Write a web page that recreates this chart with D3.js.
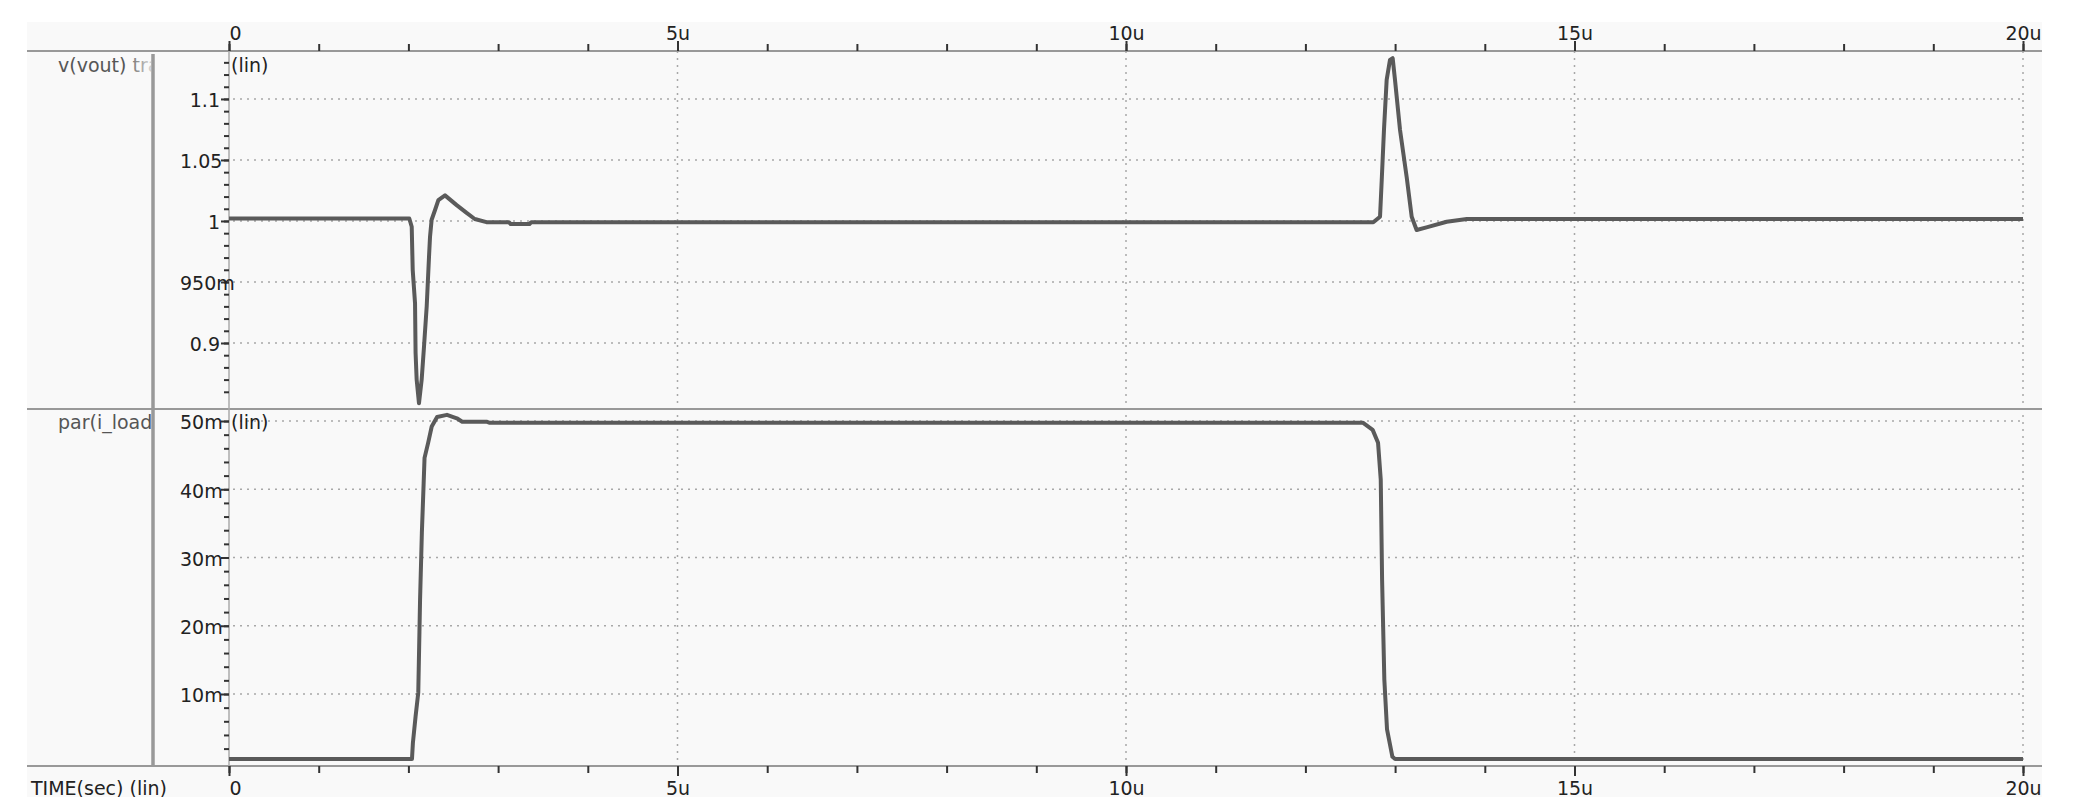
<!DOCTYPE html>
<html>
<head>
<meta charset="utf-8">
<script src="https://cdn.jsdelivr.net/npm/d3@7"></script>
<style>
  body { margin: 0; background: #fff; }
  text { font-family: "DejaVu Sans", sans-serif; font-size: 19px; }
</style>
</head>
<body>
<svg id="chart" width="2073" height="802"></svg>
<script>
// time axis (microseconds)
const timeTicks = [0, 5, 10, 15, 20];
const timeLabels = ["0", "5u", "10u", "15u", "20u"];

// v(vout) panel
const voutTicks = [1.1, 1.05, 1.0, 0.95, 0.9];
const voutLabels = ["1.1", "1.05", "1", "950m", "0.9"];
const voutTime = [0, 2.01, 2.037, 2.048, 2.074, 2.08, 2.092, 2.118, 2.148, 2.174, 2.204, 2.23, 2.241, 2.259, 2.297, 2.334, 2.408, 2.538, 2.649, 2.74, 2.87, 3.12, 3.14, 3.35, 3.37,
  12.757, 12.832, 12.851, 12.876, 12.906, 12.943, 12.973, 12.999, 13.055, 13.129, 13.185, 13.24, 13.35, 13.575, 13.8, 20];
const voutVal = [1.002, 1.002, 0.9953, 0.960, 0.9325, 0.892, 0.870, 0.8506, 0.870, 0.897, 0.930, 0.971, 0.987, 1.001, 1.009, 1.017, 1.021, 1.013, 1.0066, 1.0016, 0.999, 0.999, 0.9975, 0.9975, 0.999,
  0.999, 1.0035, 1.0336, 1.0746, 1.1156, 1.132, 1.1334, 1.1156, 1.0746, 1.036, 1.0035, 0.9926, 0.9948, 0.9994, 1.0016, 1.0016];

// par(i_load) panel, mA
const iTicks = [50, 40, 30, 20, 10];
const iLabels = ["50m", "40m", "30m", "20m", "10m"];
const iTime = [0, 2.04, 2.05, 2.08, 2.11, 2.13, 2.15, 2.17, 2.18, 2.22, 2.26, 2.32, 2.43, 2.54, 2.6, 2.87, 2.9,
  12.64, 12.75, 12.81, 12.84, 12.855, 12.88, 12.91, 12.97, 13.0, 20];
const iVal = [0.48, 0.48, 2.8, 6.7, 10.2, 23.8, 33.6, 40.9, 44.6, 46.8, 49.2, 50.6, 50.9, 50.4, 49.9, 49.9, 49.75,
  49.75, 48.7, 46.8, 41.4, 26.7, 12.1, 4.8, 0.8, 0.48, 0.48];

const svg = d3.select("#chart");
const frame = { x0: 27, y0: 22, x1: 2042, y1: 797 };
const plotL = 229, plotR = 2023, plotT = 51, plotM = 409, plotB = 766;
const gridColor = "#a8a8a8", lineColor = "#999", traceColor = "#5a5a5a";

const defs = svg.append("defs");
defs.append("clipPath").attr("id", "frameClip").append("rect")
  .attr("x", frame.x0).attr("y", frame.y0).attr("width", frame.x1 - frame.x0).attr("height", frame.y1 - frame.y0);
defs.append("clipPath").attr("id", "nameClip").append("rect")
  .attr("x", frame.x0).attr("y", frame.y0).attr("width", 151 - frame.x0).attr("height", frame.y1 - frame.y0);
defs.append("clipPath").attr("id", "topClip").append("rect")
  .attr("x", plotL).attr("y", plotT).attr("width", plotR - plotL + 2).attr("height", plotM - plotT);
defs.append("clipPath").attr("id", "botClip").append("rect")
  .attr("x", plotL).attr("y", plotM).attr("width", plotR - plotL + 2).attr("height", plotB - plotM);
const fade = defs.append("linearGradient").attr("id", "fade")
  .attr("gradientUnits", "userSpaceOnUse").attr("x1", 125).attr("x2", 150).attr("y1", 0).attr("y2", 0);
fade.append("stop").attr("offset", 0).attr("stop-color", "#555");
fade.append("stop").attr("offset", 1).attr("stop-color", "#d0d0d0");

const root = svg.append("g").attr("clip-path", "url(#frameClip)");
root.append("rect").attr("x", frame.x0).attr("y", frame.y0)
  .attr("width", frame.x1 - frame.x0).attr("height", frame.y1 - frame.y0).attr("fill", "#f9f9f9");

const x = d3.scaleLinear().domain([0, 20]).range([plotL, plotR]);
const yV = d3.scaleLinear().domain([0.8459, 1.1393]).range([plotM, plotT]);
const yI = d3.scaleLinear().domain([-0.55, 51.76]).range([plotB, plotM]);

// grid
const grid = root.append("g").attr("stroke", gridColor).attr("stroke-width", 1.5).attr("stroke-dasharray", "2,5");
grid.selectAll(".vg").data(timeTicks.slice(1)).join("line").attr("class", "vg")
  .attr("x1", d => x(d)).attr("x2", d => x(d)).attr("y1", plotT).attr("y2", plotB);
grid.selectAll(".hv").data(voutTicks).join("line").attr("class", "hv")
  .attr("x1", plotL + 4).attr("x2", plotR).attr("y1", d => yV(d)).attr("y2", d => yV(d));
grid.selectAll(".hi").data(iTicks).join("line").attr("class", "hi")
  .attr("x1", plotL + 4).attr("x2", plotR).attr("y1", d => yI(d)).attr("y2", d => yI(d));

// frame lines
const fl = root.append("g").attr("stroke", lineColor).attr("stroke-width", 2);
[plotT, plotM, plotB].forEach(yy => fl.append("line").attr("x1", frame.x0).attr("x2", frame.x1).attr("y1", yy).attr("y2", yy));
fl.append("line").attr("x1", plotL).attr("x2", plotL).attr("y1", plotT).attr("y2", plotB).attr("stroke-width", 1.5).attr("stroke", "#aaa");
root.append("line").attr("x1", 153).attr("x2", 153).attr("y1", 54).attr("y2", plotB)
  .attr("stroke", "#999").attr("stroke-width", 3.5);

function styleAxis(g) {
  g.select(".domain").remove();
  g.selectAll(".tick line").attr("stroke", "#333").attr("stroke-width", 2);
  g.selectAll(".tick text").attr("fill", "#222").style("font-size", "19px").style("font-family", "DejaVu Sans");
}

// time axes
const timeFmt = d => timeLabels[timeTicks.indexOf(d)];
root.append("g").attr("transform", `translate(0,${plotT})`)
  .call(d3.axisTop(x).tickValues(d3.range(0, 21)).tickSize(7).tickFormat("")).call(styleAxis);
const topAx = root.append("g").attr("transform", `translate(0,${plotT})`)
  .call(d3.axisTop(x).tickValues(timeTicks).tickSize(10).tickPadding(1).tickFormat(timeFmt)).call(styleAxis);
root.append("g").attr("transform", `translate(0,${plotB})`)
  .call(d3.axisBottom(x).tickValues(d3.range(0, 21)).tickSize(7).tickFormat("")).call(styleAxis);
const botAx = root.append("g").attr("transform", `translate(0,${plotB})`)
  .call(d3.axisBottom(x).tickValues(timeTicks).tickSize(10).tickFormat(timeFmt)).call(styleAxis);
botAx.selectAll(".tick text").attr("y", 29).attr("dy", 0);
[topAx, botAx].forEach(a => a.selectAll(".tick text").filter(d => d === 0).attr("text-anchor", "start").attr("x", 0));

// value axes
function valueAxis(scale, minor, ticks, labels) {
  root.append("g").attr("transform", `translate(${plotL},0)`)
    .call(d3.axisLeft(scale).tickValues(minor).tickSize(5).tickFormat("")).call(styleAxis);
  const g = root.append("g").attr("transform", `translate(${plotL},0)`)
    .call(d3.axisLeft(scale).tickValues(ticks).tickSize(8).tickPadding(1)
      .tickFormat(d => labels[ticks.indexOf(d)])).call(styleAxis);
  g.selectAll(".tick text").attr("dy", "0.42em").each(function () {
    const w = this.getComputedTextLength();
    if (plotL - 9 - w < 180) d3.select(this).attr("text-anchor", "start").attr("x", 180 - plotL);
  });
}
valueAxis(yV, d3.range(86, 114).map(v => v / 100), voutTicks, voutLabels);
valueAxis(yI, d3.range(2, 52, 2), iTicks, iLabels);

// traces
const lineV = d3.line().x((d, i) => x(voutTime[i])).y(d => yV(d));
const lineI = d3.line().x((d, i) => x(iTime[i])).y(d => yI(d));
root.append("path").datum(voutVal).attr("clip-path", "url(#topClip)")
  .attr("d", lineV).attr("fill", "none").attr("stroke", traceColor).attr("stroke-width", 4).attr("stroke-linejoin", "round");
root.append("path").datum(iVal).attr("clip-path", "url(#botClip)")
  .attr("d", lineI).attr("fill", "none").attr("stroke", traceColor).attr("stroke-width", 4).attr("stroke-linejoin", "round");

// labels
const names = root.append("g").attr("clip-path", "url(#nameClip)");
names.append("text").attr("x", 58).attr("y", 72).attr("fill", "url(#fade)").text("v(vout) tran");
names.append("text").attr("x", 58).attr("y", 429).attr("fill", "#555").text("par(i_load)");
root.append("text").attr("x", plotL + 2).attr("y", 72).attr("fill", "#222").text("(lin)");
root.append("text").attr("x", plotL + 2).attr("y", 429).attr("fill", "#222").text("(lin)");
root.append("text").attr("x", 31).attr("y", 795).attr("fill", "#222").text("TIME(sec) (lin)");
</script>
</body>
</html>
